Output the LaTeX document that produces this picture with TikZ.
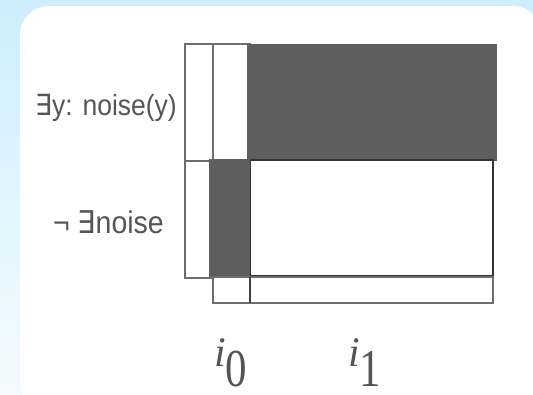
\documentclass[tikz,border=0pt]{standalone}
\usepackage{fontspec}
\newfontfamily\lblfont{Liberation Sans}
\newfontfamily\symfnt{DejaVu Sans}
\newfontfamily\digfont{Liberation Serif}
\usetikzlibrary{calc}
\definecolor{bgtop}{HTML}{CDEEFD}
\definecolor{bgbot}{HTML}{F4FBFF}
\definecolor{darkfill}{HTML}{5E5E5E}
\definecolor{cellline}{HTML}{6E6E6E}
\definecolor{txtgray}{HTML}{555555}
\tikzset{
  cell/.style={draw=cellline, line width=1.5pt, fill=white},
  darkcell/.style={fill=darkfill},
  boldcell/.style={draw=black!80, line width=2pt, fill=white},
  rowlabel/.style={inner sep=0pt, text=txtgray, font=\lblfont},
  idxlabel/.style={inner sep=0pt, text=txtgray, anchor=base west}
}
\newcommand{\idxsym}[1]{{\digfont\itshape\fontsize{42}{44}\selectfont i}\kern-0.5pt\raisebox{-20pt}{\scalebox{1}[1.24]{\digfont\fontsize{43}{46}\selectfont #1}}}
\begin{document}
\begin{tikzpicture}[x=1pt,y=-1pt]
\useasboundingbox (0,0) rectangle (533,394);
\clip (0,0) rectangle (533,394);
\shade[top color=bgtop, bottom color=bgbot] (0,0) rectangle (533,394);
\fill[white, rounded corners=29pt] (20,6) rectangle (542,411);
% left column
\draw[cell] (185,44) rectangle (213,161);
\draw[cell] (185,161) rectangle (213,278);
% second column top
\draw[cell] (213,44) rectangle (250,160);
% dark top band
\fill[darkcell] (247,44) rectangle (497,161);
% lower right white
\draw[boldcell] (250,160) rectangle (493,276);
% dark i0 cell
\fill[darkcell] (209,159) rectangle (250,277);
% bottom row
\draw[cell] (213,277) rectangle (250,303);
\draw[cell] (250,277) rectangle (493,303);
\draw[black!75, line width=2pt] (250,277) -- (250,303);
% labels
\node[rowlabel, anchor=base east] (lexists) at (177,115)
  {\scalebox{1}[1.1]{\fontsize{26.5}{28}\selectfont{\symfnt ∃}y: noise(y)}};
\node[rowlabel, anchor=base east] (lnot) at (164,233)
  {\scalebox{1}[1.1]{\fontsize{28.5}{30}\selectfont ¬ {\symfnt ∃}noise}};
\node[idxlabel] (izero) at (214,366) {\idxsym{0}};
\node[idxlabel] (ione) at (348,366) {\idxsym{1}};
\end{tikzpicture}
\end{document}
